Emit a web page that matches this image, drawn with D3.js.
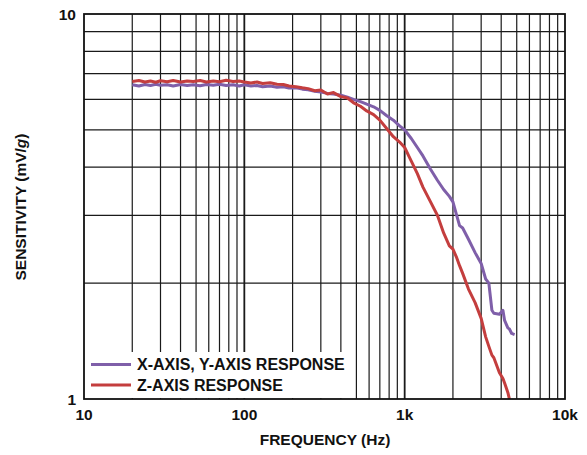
<!DOCTYPE html>
<html>
<head>
<meta charset="utf-8">
<script src="https://cdn.jsdelivr.net/npm/d3@7"></script>
<style>
  html, body { margin: 0; padding: 0; background: #fff; }
  svg { display: block; }
  text { font-family: "Liberation Sans", Arial, sans-serif; font-weight: bold; fill: #111; }
</style>
</head>
<body>
<svg id="chart" width="587" height="455"></svg>
<script>
// ---- data ----
const freqHz = [20, 22, 24, 26, 28, 30, 33, 36, 40, 44, 48, 53, 58, 64, 70, 77, 85, 93,
  100, 110, 120, 130, 145, 160, 175, 190, 210, 230, 250, 275, 300, 330, 360, 400, 440,
  480, 530, 580, 640, 700, 770, 850, 930, 1000, 1100, 1200, 1300, 1450, 1600, 1750, 1900,
  2000, 2100, 2200, 2300, 2500, 2750, 3000, 3200, 3350, 3500, 3600, 3900, 4100, 4200, 4400, 4500, 4650, 4850];

const xyAxisResponse = [6.55, 6.50, 6.56, 6.52, 6.57, 6.53, 6.55, 6.50, 6.56, 6.52, 6.55, 6.51, 6.56, 6.53, 6.57, 6.52, 6.55, 6.50,
  6.55, 6.50, 6.52, 6.47, 6.50, 6.45, 6.47, 6.42, 6.43, 6.38, 6.36, 6.30, 6.27, 6.22, 6.20, 6.15, 6.08,
  6.00, 5.92, 5.83, 5.74, 5.62, 5.45, 5.30, 5.12, 5.00, 4.75, 4.50, 4.28, 3.95, 3.70, 3.50, 3.36,
  3.25, 3.02, 2.82, 2.78, 2.60, 2.40, 2.25, 2.05, 2.00, 1.70, 1.67, 1.66, 1.70, 1.60, 1.53, 1.52, 1.48, 1.47];

const zAxisResponse = [6.68, 6.72, 6.66, 6.70, 6.65, 6.71, 6.67, 6.72, 6.66, 6.70, 6.68, 6.72, 6.66, 6.70, 6.67, 6.73, 6.68, 6.70,
  6.66, 6.62, 6.66, 6.60, 6.63, 6.57, 6.56, 6.50, 6.47, 6.43, 6.40, 6.32, 6.35, 6.20, 6.25, 6.10, 6.05,
  5.88, 5.76, 5.60, 5.48, 5.30, 5.05, 4.80, 4.65, 4.50, 4.15, 3.85, 3.55, 3.25, 3.00, 2.70, 2.50,
  2.45, 2.34, 2.22, 2.12, 1.93, 1.78, 1.62, 1.45, 1.37, 1.30, 1.28, 1.17, 1.13, 1.10, 1.04, 1.00, null, null];

const seriesNames = ["X-AXIS, Y-AXIS RESPONSE", "Z-AXIS RESPONSE"];
const seriesColors = ["#7f5fa9", "#c43e3e"];
const xTickValues = [10, 100, 1000, 10000];
const xTickLabels = ["10", "100", "1k", "10k"];
const yTickValues = [1, 10];
const yTickLabels = ["1", "10"];
const xGridValues = [20,30,40,50,60,70,80,90,100,200,300,400,500,600,700,800,900,1000,2000,3000,4000,5000,6000,7000,8000,9000];
const yGridValues = [2,3,4,5,6,7,8,9];

// ---- layout ----
const svg = d3.select("#chart");
const m = { left: 84, right: 22, top: 14, bottom: 56 };
const W = 587, H = 455;
const x = d3.scaleLog().domain([10, 10000]).range([m.left, W - m.right]);
const y = d3.scaleLog().domain([1, 10]).range([H - m.bottom, m.top]);

// grid
const g = svg.append("g");
g.selectAll("line.vg").data(xGridValues).join("line")
  .attr("x1", d => x(d)).attr("x2", d => x(d))
  .attr("y1", y(1)).attr("y2", y(10))
  .attr("stroke", "#1a1a1a")
  .attr("stroke-width", d => (d === 100 || d === 1000) ? 1.8 : 1.2);
g.selectAll("line.hg").data(yGridValues).join("line")
  .attr("x1", x(10)).attr("x2", x(10000))
  .attr("y1", d => y(d)).attr("y2", d => y(d))
  .attr("stroke", "#1a1a1a").attr("stroke-width", 1.2);

// data lines
const series = [xyAxisResponse, zAxisResponse];
const line = d3.line()
  .defined(d => d[1] != null)
  .x(d => x(d[0])).y(d => y(d[1]));
series.forEach((vals, i) => {
  svg.append("path")
    .datum(freqHz.map((f, k) => [f, vals[k]]))
    .attr("d", line)
    .attr("fill", "none")
    .attr("stroke", seriesColors[i])
    .attr("stroke-width", 3)
    .attr("stroke-linejoin", "round");
});

// legend (white box covering grid)
const legX = m.left + 1, legY = 352;
svg.append("rect").attr("x", legX).attr("y", legY).attr("width", 266).attr("height", y(1) - legY - 1)
  .attr("fill", "#fff");
seriesNames.forEach((name, i) => {
  const ly = 364.5 + i * 20.5;
  svg.append("line").attr("x1", 91).attr("x2", 131).attr("y1", ly).attr("y2", ly)
    .attr("stroke", seriesColors[i]).attr("stroke-width", 3);
  svg.append("text").attr("x", 137).attr("y", ly + 5.8).attr("font-size", 16).text(name);
});

// frame
svg.append("rect").attr("x", x(10)).attr("y", y(10))
  .attr("width", x(10000) - x(10)).attr("height", y(1) - y(10))
  .attr("fill", "none").attr("stroke", "#111").attr("stroke-width", 1.8);

// ticks labels
svg.selectAll("text.xt").data(xTickValues).join("text")
  .attr("x", d => x(d)).attr("y", 419.5).attr("text-anchor", "middle")
  .attr("font-size", 15.5).text((d, i) => xTickLabels[i]);
svg.selectAll("text.yt").data(yTickValues).join("text")
  .attr("x", 76).attr("y", d => y(d) + 5.5).attr("text-anchor", "end")
  .attr("font-size", 15.5).text((d, i) => yTickLabels[i]);

// axis titles
svg.append("text").attr("x", 325).attr("y", 445).attr("text-anchor", "middle")
  .attr("font-size", 15.5).text("FREQUENCY (Hz)");
const yt = svg.append("text").attr("transform", "translate(26,207) rotate(-90)")
  .attr("text-anchor", "middle").attr("font-size", 15.5);
yt.append("tspan").text("SENSITIVITY (mV/");
yt.append("tspan").attr("font-style", "italic").text("g");
yt.append("tspan").text(")");
</script>
</body>
</html>
